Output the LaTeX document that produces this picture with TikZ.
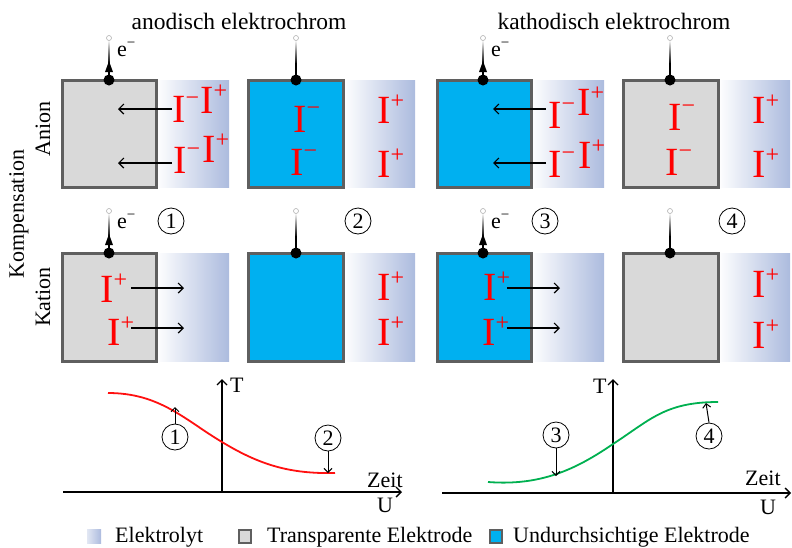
\documentclass[tikz,border=0pt]{standalone}
\usepackage{fontspec}
\setmainfont{Liberation Serif}
\usetikzlibrary{arrows.meta}
\definecolor{elgrey}{HTML}{D9D9D9}
\definecolor{elborder}{HTML}{5F5F5F}
\definecolor{elblue}{HTML}{00B0F0}
\definecolor{lyt}{RGB}{172,187,222}
\definecolor{curvered}{HTML}{FF1010}
\definecolor{curvegreen}{HTML}{00B050}
\newcommand\ionm{I\raisebox{17pt}{\fontsize{24}{24}\selectfont −}}
\newcommand\ionp{I\raisebox{15pt}{\fontsize{24}{24}\selectfont +}}
\newcommand\elec{e\raisebox{9pt}{\fontsize{15}{15}\selectfont −}}
% wire: x, top y of electrode
\newcommand\wire[2]{%
  \shade[top color=white, bottom color=black] (#1-0.9,#2-40) rectangle (#1+0.9,#2-16);
  \fill (#1-0.9,#2-17) rectangle (#1+0.9,#2);
  \draw[gray!60, fill=white, line width=0.6pt] (#1,#2-42) circle (2.5pt);
  \fill (#1,#2) circle (5.5pt);}
\newcommand\wirearrow[2]{%
  \fill (#1,#2-19) -- (#1-4,#2-8) -- (#1+4,#2-8) -- cycle;}
% electrode: x1, x2 (box), x3 (electrolyte end), y1, y2, fill
\newcommand\cell[6]{%
  \shade[left color=white, right color=lyt] (#2,#4) rectangle (#3,#5);
  \draw[electrode, fill=#6] (#1,#4) rectangle (#2,#5);}
\begin{document}
\begin{tikzpicture}[x=1pt,y=-1pt,
  lbl/.style={font=\fontsize{22}{26}\selectfont, inner sep=0pt},
  ttl/.style={font=\fontsize{23.5}{27}\selectfont, inner sep=0pt},
  ion/.style={text=red, font=\fontsize{40}{44}\selectfont, inner sep=0pt, anchor=base west},
  electrode/.style={draw=elborder, line width=3pt},
  migr/.style={line width=1.2pt, -{Straight Barb[length=5pt,width=10pt]}},
  myaxis/.style={line width=1.4pt, -{Straight Barb[length=5pt,width=10pt]}},
  numc/.style={circle, draw, line width=0.8pt, minimum size=26pt, inner sep=0pt, font=\fontsize{22}{26}\selectfont},
  ptr/.style={line width=1pt, -{Straight Barb[length=4pt,width=8pt]}}]
\useasboundingbox (0,0) rectangle (792,547);

% titles
\node[ttl, anchor=base] (t1) at (239,29) {anodisch elektrochrom};
\node[ttl, anchor=base] (t2) at (614,29) {kathodisch elektrochrom};
\node[lbl, rotate=90] (anion) at (43,129) {Anion};
\node[lbl, rotate=90] (komp) at (19,214) {Kompensation};
\node[lbl, rotate=90] (kation) at (43,297) {Kation};

% top row
\cell{62}{156}{229}{80}{187}{elgrey}
\cell{248}{343}{415}{80}{187}{elblue}
\cell{437}{531}{604}{80}{187}{elblue}
\cell{623}{718}{790}{80}{187}{elgrey}
% bottom row
\cell{62}{156}{229}{253}{361}{elgrey}
\cell{248}{343}{415}{253}{361}{elblue}
\cell{437}{531}{604}{253}{361}{elblue}
\cell{623}{718}{790}{253}{361}{elgrey}

% wires
\foreach \wx in {109,296,483,670}{\wire{\wx}{80}\wire{\wx}{253}}
\foreach \wx in {109,483}{\wirearrow{\wx}{80}\wirearrow{\wx}{253}}
\node[lbl, anchor=base west] (e1) at (117,56) {\elec};
\node[lbl, anchor=base west] (e3) at (491,56) {\elec};
\node[lbl, anchor=base west] (e1b) at (117,228) {\elec};
\node[lbl, anchor=base west] (e3b) at (491,228) {\elec};

% circled numbers
\node[numc] (n1) at (171,221) {1};
\node[numc] (n2) at (358,221) {2};
\node[numc] (n3) at (545,221) {3};
\node[numc] (n4) at (732,221) {4};

% ions top row
\node[ion] (a1) at (172,122) {\ionm};
\node[ion] (a2) at (200,113) {\ionp};
\node[ion] (a3) at (173,173) {\ionm};
\node[ion] (a4) at (202,162) {\ionp};
\node[ion] (b1) at (293,132) {\ionm};
\node[ion] (b2) at (290,175) {\ionm};
\node[ion] (b3) at (377,123) {\ionp};
\node[ion] (b4) at (377,177) {\ionp};
\node[ion] (c1) at (548,128) {\ionm};
\node[ion] (c2) at (577,115) {\ionp};
\node[ion] (c3) at (548,177) {\ionm};
\node[ion] (c4) at (578,168) {\ionp};
\node[ion] (d1) at (668,130) {\ionm};
\node[ion] (d2) at (665,175) {\ionm};
\node[ion] (d3) at (752,123) {\ionp};
\node[ion] (d4) at (752,177) {\ionp};
% ions bottom row
\node[ion] (f1) at (100,302) {\ionp};
\node[ion] (f2) at (107,345) {\ionp};
\node[ion] (g1) at (377,300) {\ionp};
\node[ion] (g2) at (377,345) {\ionp};
\node[ion] (h1) at (483,300) {\ionp};
\node[ion] (h2) at (482,345) {\ionp};
\node[ion] (k1) at (752,297) {\ionp};
\node[ion] (k2) at (752,348) {\ionp};

% migration arrows
\coordinate (m1s) at (172,109); \coordinate (m1e) at (118,109);
\coordinate (m2s) at (172,163); \coordinate (m2e) at (118,163);
\coordinate (m3s) at (546,109); \coordinate (m3e) at (493,109);
\coordinate (m4s) at (546,163); \coordinate (m4e) at (493,163);
\coordinate (m5s) at (131,288); \coordinate (m5e) at (184,288);
\coordinate (m6s) at (131,328); \coordinate (m6e) at (184,328);
\coordinate (m7s) at (507,288); \coordinate (m7e) at (560,288);
\coordinate (m8s) at (507,328); \coordinate (m8e) at (560,328);
\foreach \i in {1,...,8}{\draw[migr] (m\i s) -- (m\i e);}

% graphs
\coordinate (lo) at (222,492); \coordinate (lx) at (402,492); \coordinate (lx0) at (63,492); \coordinate (ly) at (222,379);
\draw[myaxis] (lx0) -- (lx);
\draw[myaxis] (lo) -- (ly);
\coordinate (ro) at (613,493); \coordinate (rx) at (791,493); \coordinate (rx0) at (442,493); \coordinate (ry) at (613,379);
\draw[myaxis] (rx0) -- (rx);
\draw[myaxis] (ro) -- (ry);
\node[lbl, anchor=base west] (lT) at (230,392) {T};
\node[lbl, anchor=base west] (rT) at (593,393) {T};
\node[lbl, anchor=base west] (lZ) at (367,487) {Zeit};
\node[lbl, anchor=base west] (rZ) at (745,485) {Zeit};
\node[lbl, anchor=base west] (lU) at (377,512) {U};
\node[lbl, anchor=base west] (rU) at (760,514) {U};

\draw[curvered, line width=1.8pt] (108,393) .. controls (160,393) and (185,420) .. (222,442)
  .. controls (260,465) and (290,474) .. (335,473);
\draw[curvegreen, line width=1.8pt] (488,482) .. controls (540,486) and (575,470) .. (613,444)
  .. controls (650,420) and (665,402) .. (718,402);

\node[numc] (q1) at (175,437) {1};
\node[numc] (q2) at (328,438) {2};
\node[numc] (q3) at (556,435) {3};
\node[numc] (q4) at (709,436) {4};
\coordinate (p1) at (175,407);
\coordinate (p2) at (328,473);
\coordinate (p3) at (556,476);
\coordinate (p4) at (706,403);
\draw[ptr] (q1.north) -- (p1);
\draw[ptr] (q2.south) -- (p2);
\draw[ptr] (q3.south) -- (p3);
\draw[ptr] (q4.north) -- (p4);

% legend
\shade[left color=lyt!35, right color=lyt] (87,529) rectangle (101,543);
\draw[electrode, line width=2pt, fill=elgrey] (239,530) rectangle (251,543);
\draw[electrode, line width=2pt, fill=elblue] (490,530) rectangle (502,543);
\node[lbl, anchor=base west] (L1) at (115,542) {Elektrolyt};
\node[lbl, anchor=base west] (L2) at (267,542) {Transparente Elektrode};
\node[lbl, anchor=base west] (L3) at (513,542) {Undurchsichtige Elektrode};
\end{tikzpicture}
\end{document}
